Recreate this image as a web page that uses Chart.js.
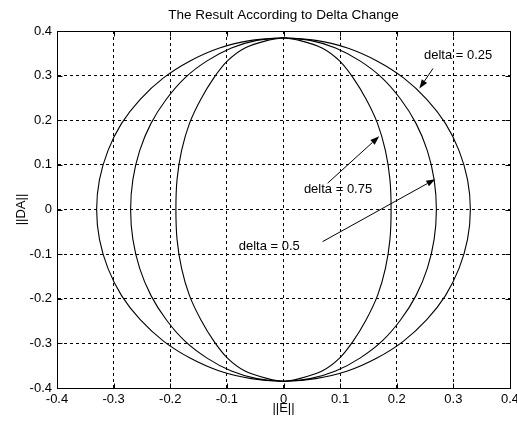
<!DOCTYPE html>
<html>
<head>
<meta charset="utf-8">
<script src="https://cdn.jsdelivr.net/npm/chart.js@4.4.1/dist/chart.umd.min.js"></script>
<style>
html, body { margin: 0; padding: 0; background: #fff; }
#wrap { width: 517px; height: 423px; }
</style>
</head>
<body>
<div id="wrap"><canvas id="mycanvas"></canvas></div>
<script>
var titleText = 'The Result According to Delta Change';
var xTitle = '||E||';
var yTitle = '||DA||';

var xTickValues = [-0.4, -0.3, -0.2, -0.1, 0, 0.1, 0.2, 0.3, 0.4];
var xTickLabels = ['-0.4', '-0.3', '-0.2', '-0.1', '0', '0.1', '0.2', '0.3', '0.4'];
var yTickValues = [-0.4, -0.3, -0.2, -0.1, 0, 0.1, 0.2, 0.3, 0.4];
var yTickLabels = ['-0.4', '-0.3', '-0.2', '-0.1', '0', '0.1', '0.2', '0.3', '0.4'];

// closed loops: top -> right side -> bottom -> left side -> top
var yPath = [0.385, 0.379, 0.362, 0.333, 0.295, 0.247, 0.193, 0.132, 0.067, 0,
  -0.067, -0.132, -0.193, -0.247, -0.295, -0.333, -0.362, -0.379, -0.385,
  -0.379, -0.362, -0.333, -0.295, -0.247, -0.193, -0.132, -0.067, 0,
  0.067, 0.132, 0.193, 0.247, 0.295, 0.333, 0.362, 0.379, 0.385];

var xDelta025 = [0, 0.057, 0.113, 0.165, 0.212, 0.253, 0.286, 0.310, 0.325, 0.330,
  0.325, 0.310, 0.286, 0.253, 0.212, 0.165, 0.113, 0.057, 0,
  -0.057, -0.113, -0.165, -0.212, -0.253, -0.286, -0.310, -0.325, -0.330,
  -0.325, -0.310, -0.286, -0.253, -0.212, -0.165, -0.113, -0.057, 0];

var xDelta05 = [0, 0.047, 0.092, 0.135, 0.174, 0.207, 0.234, 0.254, 0.266, 0.270,
  0.266, 0.254, 0.234, 0.207, 0.174, 0.135, 0.092, 0.047, 0,
  -0.047, -0.092, -0.135, -0.174, -0.207, -0.234, -0.254, -0.266, -0.270,
  -0.266, -0.254, -0.234, -0.207, -0.174, -0.135, -0.092, -0.047, 0];

var xDelta075 = [0, 0.028, 0.068, 0.099, 0.123, 0.146, 0.166, 0.180, 0.188, 0.190,
  0.188, 0.180, 0.166, 0.146, 0.123, 0.099, 0.068, 0.028, 0,
  -0.028, -0.068, -0.099, -0.123, -0.146, -0.166, -0.180, -0.188, -0.190,
  -0.188, -0.180, -0.166, -0.146, -0.123, -0.099, -0.068, -0.028, 0];

var seriesNames = ['delta = 0.25', 'delta = 0.5', 'delta = 0.75'];
var seriesX = [xDelta025, xDelta05, xDelta075];

// text labels with arrows, in data units
var noteText = ['delta = 0.25', 'delta = 0.75', 'delta = 0.5'];
var noteX = [0.248, 0.036, -0.079];
var noteY = [0.346, 0.044, -0.082];
var arrowFrom = [[0.264, 0.316], [0.078, 0.059], [0.069, -0.072]];
var arrowTo = [[0.240, 0.271], [0.169, 0.164], [0.268, 0.068]];

var FONT = "'Liberation Sans', Arial, sans-serif";

function toPoints(xs) {
  var pts = [];
  for (var i = 0; i < xs.length; i++) pts.push({ x: xs[i], y: yPath[i] });
  return pts;
}

var datasets = [];
for (var k = 0; k < seriesX.length; k++) {
  datasets.push({
    label: seriesNames[k],
    data: toPoints(seriesX[k]),
    showLine: true,
    borderColor: '#000',
    borderWidth: 1.1,
    pointRadius: 0,
    tension: 0.3,
    fill: false
  });
}

var framePlugin = {
  id: 'frame',
  afterDatasetsDraw: function(chart) {
    var a = chart.chartArea, ctx = chart.ctx;
    var xs = chart.scales.x, ys = chart.scales.y;
    var L = Math.round(a.left) + 0.5, R = Math.round(a.right) + 0.5;
    var T = Math.round(a.top) + 0.5, B = Math.round(a.bottom) + 0.5;
    ctx.save();
    ctx.strokeStyle = '#000';
    ctx.lineWidth = 1;
    ctx.setLineDash([]);
    ctx.strokeRect(L, T, R - L, B - T);
    ctx.beginPath();
    xTickValues.forEach(function(v) {
      var px = Math.round(xs.getPixelForValue(v)) + 0.5;
      ctx.moveTo(px, B); ctx.lineTo(px, B - 5);
      ctx.moveTo(px, T); ctx.lineTo(px, T + 5);
    });
    yTickValues.forEach(function(v) {
      var py = Math.round(ys.getPixelForValue(v)) + 0.5;
      ctx.moveTo(L, py); ctx.lineTo(L + 5, py);
      ctx.moveTo(R, py); ctx.lineTo(R - 5, py);
    });
    ctx.stroke();
    ctx.restore();
  },
  afterDraw: function(chart) {
    var a = chart.chartArea, ctx = chart.ctx;
    var xs = chart.scales.x, ys = chart.scales.y;
    ctx.save();
    ctx.fillStyle = '#000';
    ctx.textAlign = 'center';
    ctx.textBaseline = 'middle';
    ctx.font = '13.5px ' + FONT;
    ctx.fillText(titleText, (a.left + a.right) / 2, 15);

    ctx.font = '13px ' + FONT;
    ctx.textAlign = 'left';
    for (var i = 0; i < noteText.length; i++) {
      ctx.fillText(noteText[i], xs.getPixelForValue(noteX[i]), ys.getPixelForValue(noteY[i]));
      var x1 = xs.getPixelForValue(arrowFrom[i][0]), y1 = ys.getPixelForValue(arrowFrom[i][1]);
      var x2 = xs.getPixelForValue(arrowTo[i][0]), y2 = ys.getPixelForValue(arrowTo[i][1]);
      var ang = Math.atan2(y2 - y1, x2 - x1);
      var hl = 9, hw = 3.2;
      var bx = x2 - hl * Math.cos(ang), by = y2 - hl * Math.sin(ang);
      ctx.beginPath();
      ctx.strokeStyle = '#000';
      ctx.lineWidth = 1;
      ctx.moveTo(x1, y1);
      ctx.lineTo(bx, by);
      ctx.stroke();
      ctx.beginPath();
      ctx.moveTo(x2, y2);
      ctx.lineTo(bx + hw * Math.sin(ang), by - hw * Math.cos(ang));
      ctx.lineTo(bx - hw * Math.sin(ang), by + hw * Math.cos(ang));
      ctx.closePath();
      ctx.fill();
    }
    ctx.restore();
  }
};

var ctx = document.getElementById('mycanvas');
var chart = new Chart(ctx, {
  type: 'scatter',
  data: { datasets: datasets },
  plugins: [framePlugin],
  options: {
    animation: false,
    responsive: true,
    maintainAspectRatio: false,
    layout: { padding: { top: 31, right: 7, left: 0, bottom: 0 } },
    plugins: {
      legend: { display: false },
      tooltip: { enabled: false },
      title: { display: false }
    },
    scales: {
      x: {
        type: 'linear',
        min: -0.4,
        max: 0.4,
        afterBuildTicks: function(s) { s.ticks = xTickValues.map(function(v) { return { value: v }; }); },
        afterFit: function(s) { s.height = 35; s.paddingLeft = 0; s.paddingRight = 0; },
        ticks: {
          color: '#000',
          padding: 4,
          maxRotation: 0,
          autoSkip: false,
          font: { family: FONT, size: 13 },
          callback: function(v, i) { return xTickLabels[i]; }
        },
        grid: { color: '#000', lineWidth: 1, drawTicks: false },
        border: { display: true, color: '#000', dash: [3, 3] },
        title: {
          display: true,
          text: xTitle,
          color: '#000',
          font: { family: FONT, size: 13 },
          padding: { top: 0, bottom: 7 }
        }
      },
      y: {
        type: 'linear',
        min: -0.4,
        max: 0.4,
        afterBuildTicks: function(s) { s.ticks = yTickValues.map(function(v) { return { value: v }; }); },
        afterFit: function(s) { s.width = 57; s.paddingTop = 0; s.paddingBottom = 0; },
        ticks: {
          color: '#000',
          padding: 5,
          autoSkip: false,
          font: { family: FONT, size: 13 },
          callback: function(v, i) { return yTickLabels[i]; }
        },
        grid: { color: '#000', lineWidth: 1, drawTicks: false },
        border: { display: true, color: '#000', dash: [3, 3] },
        title: {
          display: true,
          text: yTitle,
          color: '#000',
          font: { family: FONT, size: 13 },
          padding: { top: 14, bottom: 0 }
        }
      }
    }
  }
});
</script>
</body>
</html>
